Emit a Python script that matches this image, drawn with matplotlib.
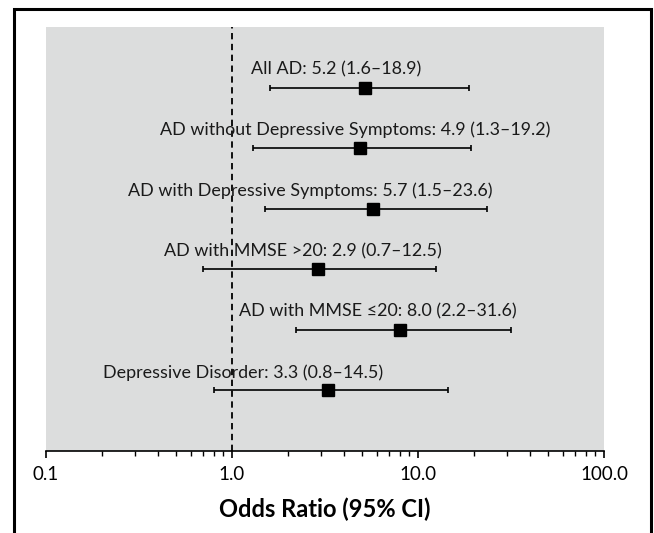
import numpy as np
import matplotlib.pyplot as plt
from matplotlib.patches import Rectangle

plt.rcParams['font.family'] = ['Lato', 'DejaVu Sans']

# odds ratios with 95% CI, top to bottom
groups = ['All AD', 'AD without Depressive Symptoms', 'AD with Depressive Symptoms',
          'AD with MMSE >20', 'AD with MMSE \u226420', 'Depressive Disorder']
odds = [5.2, 4.9, 5.7, 2.9, 8.0, 3.3]
ci_low = [1.6, 1.3, 1.5, 0.7, 2.2, 0.8]
ci_high = [18.9, 19.2, 23.6, 12.5, 31.6, 14.5]

tick_vals = [0.1, 1, 10, 100]
tick_labels = ['0.1', '1.0', '10.0', '100.0']

# where each label starts (axes fraction), they are placed by hand in the original
label_left = [0.367, 0.204, 0.147, 0.211, 0.346, 0.102]

fig = plt.figure(figsize=(6.54, 5.33), dpi=100)
ax = fig.add_axes([0.0703, 0.1538, 0.8532, 0.7955])
ax.set_facecolor('#dcdddd')

ypos = np.arange(1, len(groups) + 1)
odds = np.array(odds)
err = [odds - np.array(ci_low), np.array(ci_high) - odds]

ax.axvline(1, color='black', lw=1.3, ls=(0, (3.5, 2.5)), zorder=1)
ax.errorbar(odds, ypos, xerr=err, fmt='s', color='black', ms=8.8,
            elinewidth=1.2, capsize=2.5, capthick=1.2, zorder=3)

for i, g in enumerate(groups):
    txt = f'{g}: {odds[i]:.1f} ({ci_low[i]:.1f}\u2013{ci_high[i]:.1f})'
    ax.annotate(txt, xy=(label_left[i], ypos[i]), xycoords=('axes fraction', 'data'),
                xytext=(0, 13), textcoords='offset points',
                ha='left', va='center', fontsize=12.9, color='#1a1a1a')

ax.set_xscale('log')
ax.set_xlim(0.1, 100)
ax.set_ylim(7, 0)
ax.set_xticks(tick_vals)
ax.set_xticklabels(tick_labels)
ax.set_yticks([])
for s in ['left', 'right', 'top']:
    ax.spines[s].set_visible(False)
ax.spines['bottom'].set_linewidth(1.2)
ax.tick_params(axis='x', which='major', length=5, width=1.2, labelsize=13.5, pad=6)
ax.tick_params(axis='x', which='minor', length=3.5, width=1.0)
ax.set_xlabel('Odds Ratio (95% CI)', fontsize=17, fontweight='bold', labelpad=10)

# frame round the whole figure, bottom edge runs off the picture
fig.add_artist(Rectangle((14 / 654, -0.05), 637 / 654, 1.05 - 9 / 533,
                         transform=fig.transFigure, fill=False,
                         ec='black', lw=2.2, clip_on=False))

fig.savefig('out.png', dpi=100)
